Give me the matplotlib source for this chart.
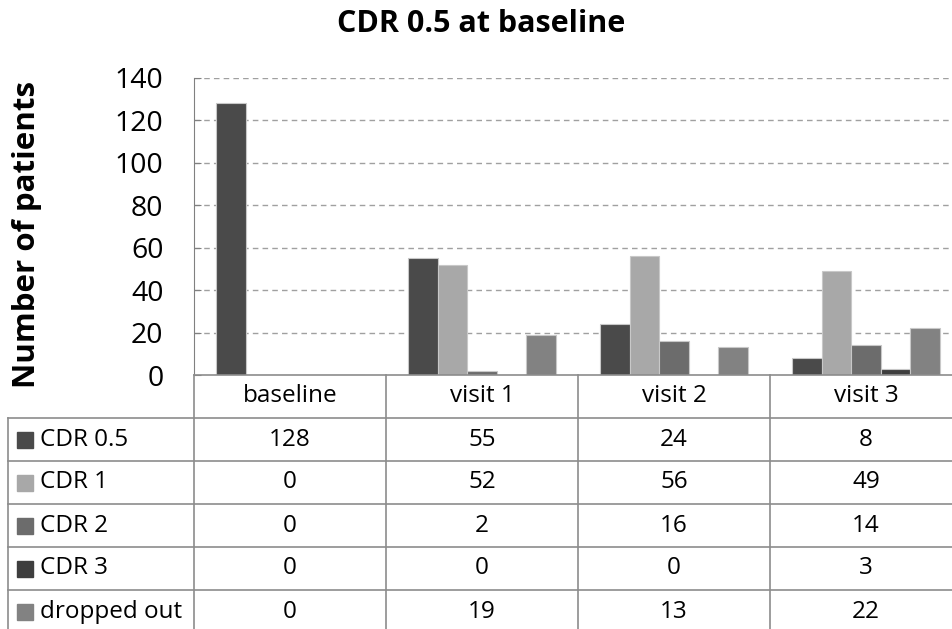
import matplotlib
matplotlib.use("Agg")
import matplotlib.pyplot as plt
import matplotlib.transforms as mtransforms
import numpy as np

categories = ["baseline", "visit 1", "visit 2", "visit 3"]
series_names = ["CDR 0.5", "CDR 1", "CDR 2", "CDR 3", "dropped out"]
cdr05 = [128, 55, 24, 8]
cdr1 = [0, 52, 56, 49]
cdr2 = [0, 2, 16, 14]
cdr3 = [0, 0, 0, 3]
dropped = [0, 19, 13, 22]
series_values = [cdr05, cdr1, cdr2, cdr3, dropped]
colors = ["#4a4a4a", "#a8a8a8", "#6c6c6c", "#3e3e3e", "#828282"]
yticks = [0, 20, 40, 60, 80, 100, 120, 140]

plt.rcParams['font.family'] = ['Open Sans', 'DejaVu Sans']

W, H = 953, 629
fig = plt.figure(figsize=(W / 100, H / 100), dpi=100)

# pixel geometry
x0, x1 = 194, 962
y_top, y_zero = 78, 375
ax = fig.add_axes([x0 / W, 1 - y_zero / H, (x1 - x0) / W, (y_zero - y_top) / H])
ax.set_xlim(-0.5, 3.5)
ax.set_ylim(0, 140)

n = len(series_names)
bw = 0.154
xs = np.arange(len(categories))
for i, (name, vals, c) in enumerate(zip(series_names, series_values, colors)):
    ax.bar(xs + (i - (n - 1) / 2) * bw, vals, bw, color=c, edgecolor="#c8c8c8",
           linewidth=0.8, zorder=3, label=name)

ax.set_yticks(yticks)
ax.set_yticklabels([str(t) for t in yticks], fontsize=20.5, color="black")
ax.tick_params(axis="y", direction="in", length=5, color="#808080", pad=22)
ax.set_xticks([])
for t in yticks[1:]:
    ax.axhline(t, color="#a0a0a0", linestyle=(0, (4, 3)), linewidth=1.0, zorder=1)
for s in ["top", "right"]:
    ax.spines[s].set_visible(False)
ax.spines["left"].set_color("#808080")
ax.spines["bottom"].set_visible(False)

# overlay in pixel coordinates
ov = fig.add_axes([0, 0, 1, 1], facecolor="none")
ov.set_xlim(0, W)
ov.set_ylim(H, 0)
ov.axis("off")

lc = "#8c8c8c"
ov.plot([x0, W], [y_zero, y_zero], color=lc, lw=1.2)
ov.plot([x0, x0], [y_zero, H], color=lc, lw=1.2)
row_h = 43
rows_top = 418
for k in range(n + 1):
    yy = rows_top + k * row_h
    if yy < H:
        ov.plot([8, W], [yy, yy], color=lc, lw=1.2)
ov.plot([8, 8], [rows_top, H], color=lc, lw=1.2)
for b in [386, 578, 770]:
    ov.plot([b, b], [y_zero, H], color=lc, lw=1.2)

fs = 17.5
blend = mtransforms.blended_transform_factory(ax.transData, ov.transData)
for j, cat in enumerate(categories):
    ov.text(j, (y_zero + rows_top) / 2, cat, transform=blend, ha="center",
            va="center", fontsize=fs)
for i, (name, vals, c) in enumerate(zip(series_names, series_values, colors)):
    yc = rows_top + (i + 0.5) * row_h
    ov.add_patch(plt.Rectangle((17, yc - 8), 16, 16, color=c))
    ov.text(40, yc, name, ha="left", va="center", fontsize=fs)
    for j, v in enumerate(vals):
        ov.text(j, yc, str(v), transform=blend, ha="center", va="center", fontsize=fs)

fig.text(481 / W, 1 - 24 / H, "CDR 0.5 at baseline", ha="center", va="center",
         fontsize=22, fontweight="bold")
fig.text(27 / W, 1 - 234 / H, "Number of patients", ha="center", va="center",
         rotation=90, fontsize=22.5, fontweight="bold")

fig.savefig("out.png", dpi=100)
